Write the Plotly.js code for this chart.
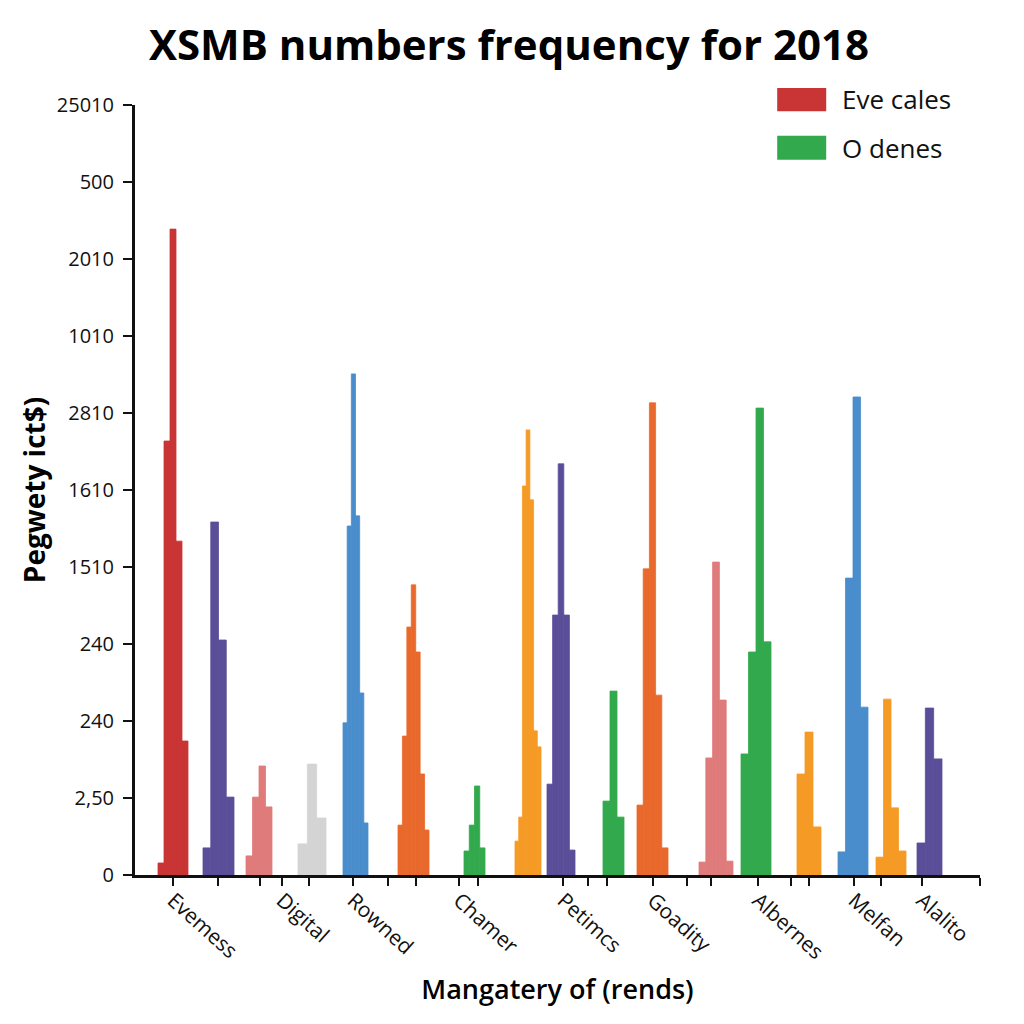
<!DOCTYPE html>
<html>
<head>
<meta charset="utf-8">
<script src="https://cdn.plot.ly/plotly-3.0.1.min.js"></script>
<style>
  html, body { margin: 0; padding: 0; background: #ffffff; }
  #chart { width: 1024px; height: 1024px; }
</style>
</head>
<body>
<div id="chart"></div>
<script>
// ---------- data ----------
const categories = ['Evemess', 'Digital', 'Rowned', 'Chamer', 'Petimcs', 'Goadity', 'Albernes', 'Melfan', 'Alalito'];
const yTickValues = [0, 250, 500, 750, 1000, 1250, 1500, 1750, 2000, 2250, 2500];
const yTickLabels = ['0', '2,50', '240', '240', '1510', '1610', '2810', '1010', '2010', '500', '25010'];
const legendNames = ['Eve cales', 'O denes'];

// frequency counts per cluster (left to right)
const evemessRed     = [39, 1409, 2097, 1084, 435];
const evemessPurple  = [88, 1146, 763, 253];
const digitalPink    = [62, 253, 354, 221];
const digitalGray    = [101, 360, 185];
const rownedBlue     = [494, 1133, 1627, 1166, 591, 169];
const rownedOrange   = [162, 451, 805, 942, 724, 328, 146];
const chamerGreen    = [78, 162, 289, 88];
const petimcsYellow  = [110, 188, 1263, 1445, 1218, 468, 416];
const petimcsPurple  = [295, 844, 1335, 844, 81];
const goadityGreen   = [240, 597, 188];
const goadityOrange  = [227, 994, 1533, 584, 88];
const albernesPink   = [42, 380, 1016, 568, 45];
const albernesGreen  = [393, 724, 1516, 757];
const melfanYellow   = [328, 464, 156];
const melfanBlue     = [75, 964, 1552, 545];
const alalitoYellow  = [58, 571, 218, 78];
const alalitoPurple  = [104, 542, 377];

// ---------- layout helpers (positions / styles) ----------
const C = {
  red: '#c93535', purple: '#5a4e99', pink: '#e07b7b', gray: '#d4d4d4',
  blue: '#4a8dcc', orange: '#e9682b', green: '#33a94d', yellow: '#f59b25'
};
// cluster spans along the numeric x axis (axis units)
const clusterDefs = [
  [evemessRed,    C.red,    23, 53],
  [evemessPurple, C.purple, 68, 99],
  [digitalPink,   C.pink,   111, 137],
  [digitalGray,   C.gray,   163, 191],
  [rownedBlue,    C.blue,   208, 233],
  [rownedOrange,  C.orange, 263, 294],
  [chamerGreen,   C.green,  329, 350],
  [petimcsYellow, C.yellow, 380, 406],
  [petimcsPurple, C.purple, 412, 440],
  [goadityGreen,  C.green,  468, 489],
  [goadityOrange, C.orange, 502, 533],
  [albernesPink,  C.pink,   564, 598],
  [albernesGreen, C.green,  606, 636],
  [melfanYellow,  C.yellow, 662, 686],
  [melfanBlue,    C.blue,   703, 733],
  [alalitoYellow, C.yellow, 741, 771],
  [alalitoPurple, C.purple, 782, 807]
];
const xTickPositions = [38, 83, 125, 147, 174, 218, 253, 281, 324, 343, 428, 453, 472, 518, 552, 576, 623, 656, 674, 719, 746, 787, 845];
const labelTickIndex = [0, 3, 5, 8, 10, 13, 16, 19, 21];
const xTickText = xTickPositions.map((_, i) => {
  const k = labelTickIndex.indexOf(i);
  return k >= 0 ? categories[k] : '';
});

const traces = clusterDefs.map(([vals, color, a, b]) => {
  const w = (b - a) / vals.length;
  return {
    type: 'bar',
    x: vals.map((_, i) => a + (i + 0.5) * w),
    y: vals,
    width: w,
    marker: { color: color, line: { width: 0.8, color: color } },
    showlegend: false,
    hoverinfo: 'y'
  };
});

const FONT = '"Open Sans", "Noto Sans", sans-serif';

const layout = {
  width: 1024, height: 1024,
  paper_bgcolor: '#ffffff', plot_bgcolor: '#ffffff',
  margin: { l: 135, r: 44, t: 105, b: 149, autoexpand: false },
  barmode: 'overlay',
  showlegend: false,
  font: { family: FONT, color: '#111111' },
  title: {
    text: 'XSMB numbers frequency for 2018',
    font: { family: FONT, size: 42, weight: 700, color: '#000000' },
    x: 0.497, xanchor: 'center', xref: 'container',
    y: 0.956, yanchor: 'middle', yref: 'container'
  },
  xaxis: {
    range: [0, 845], fixedrange: true,
    showgrid: false, zeroline: false,
    showline: true, linecolor: '#111111', linewidth: 3,
    ticks: 'outside', ticklen: 8, tickwidth: 2.5, tickcolor: '#111111',
    tickmode: 'array', tickvals: xTickPositions, ticktext: xTickText,
    tickangle: 42, ticklabelstandoff: -6,
    tickfont: { family: FONT, size: 21, color: '#111111' },
    automargin: false,
    title: { text: 'Mangatery of (rends)', font: { family: FONT, size: 27, weight: 600, color: '#000000' }, standoff: 17 }
  },
  yaxis: {
    range: [0, 2500], fixedrange: true,
    showgrid: false, zeroline: false,
    showline: true, linecolor: '#111111', linewidth: 3,
    ticks: 'outside', ticklen: 9, tickwidth: 2.5, tickcolor: '#111111',
    tickmode: 'array', tickvals: yTickValues, ticktext: yTickLabels,
    ticklabelstandoff: 5,
    tickfont: { family: FONT, size: 20, color: '#111111' },
    automargin: false,
    title: { text: 'Pegwety ict$)', font: { family: FONT, size: 28, weight: 700, color: '#000000' }, standoff: 4 }
  },
  shapes: [
    { type: 'rect', xref: 'paper', yref: 'paper', x0: 0.760, x1: 0.818, y0: 0.992, y1: 1.022, fillcolor: C.red, line: { width: 0 } },
    { type: 'rect', xref: 'paper', yref: 'paper', x0: 0.760, x1: 0.818, y0: 0.929, y1: 0.960, fillcolor: C.green, line: { width: 0 } }
  ],
  annotations: [
    { xref: 'paper', yref: 'paper', x: 0.834, y: 1.008, xanchor: 'left', yanchor: 'middle', showarrow: false,
      text: legendNames[0], font: { family: FONT, size: 26, color: '#111111' } },
    { xref: 'paper', yref: 'paper', x: 0.834, y: 0.944, xanchor: 'left', yanchor: 'middle', showarrow: false,
      text: legendNames[1], font: { family: FONT, size: 26, color: '#111111' } }
  ]
};

Plotly.newPlot('chart', traces, layout, { displayModeBar: false, staticPlot: true });
</script>
</body>
</html>
